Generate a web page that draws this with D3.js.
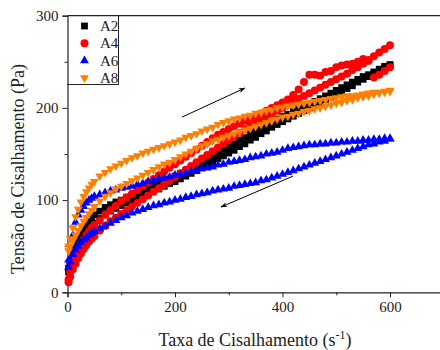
<!DOCTYPE html>
<html>
<head>
<meta charset="utf-8">
<script src="https://cdn.jsdelivr.net/npm/d3@7"></script>
<style>
  html, body { margin: 0; padding: 0; background: #fff; }
  svg { display: block; font-family: "Liberation Serif", "Times New Roman", serif; }
</style>
</head>
<body>
<svg id="chart" width="440" height="350"></svg>
<script>
// Shear rate steps (s^-1), shared by every ramp-up and ramp-down branch
const shearRate = [2, 5, 10, 15, 20, 25, 30, 35, 40, 45, 50,
  60, 70, 80, 90, 100, 110, 120, 130, 140, 150,
  160, 170, 180, 190, 200, 210, 220, 230, 240, 250,
  260, 270, 280, 290, 300, 310, 320, 330, 340, 350,
  360, 370, 380, 390, 400, 410, 420, 430, 440, 450,
  460, 470, 480, 490, 500, 510, 520, 530, 540, 550,
  560, 570, 580, 590, 600];

// Shear stress (Pa) per sample, two branches each
const a2Up = [26, 33, 43, 50, 56, 63, 69, 74, 78, 81, 84,
  88, 92, 95, 98, 100, 103, 105, 108, 110, 112,
  115, 117, 120, 123, 126, 129, 132, 135, 139, 142,
  145, 148, 152, 155, 158, 161, 165, 168, 172, 175,
  178, 182, 185, 188, 191, 193, 196, 199, 201, 204,
  207, 210, 213, 216, 219, 222, 225, 228, 231, 234,
  236, 239, 242, 245, 247];
const a2Down = [22, 28, 37, 44, 50, 56, 61, 65, 69, 72, 75,
  80, 84, 88, 91, 94, 97, 100, 102, 105, 107,
  110, 112, 115, 118, 120, 123, 126, 129, 132, 135,
  138, 141, 145, 148, 151, 154, 158, 161, 165, 168,
  172, 175, 179, 182, 185, 188, 191, 194, 197, 200,
  203, 206, 209, 212, 215, 218, 221, 224, 228, 231,
  234, 237, 240, 243, 246];

const a4Up = [14, 22, 32, 39, 46, 52, 57, 62, 66, 70, 73,
  78, 84, 89, 94, 99, 103, 107, 111, 115, 119,
  123, 127, 131, 135, 139, 143, 147, 151, 155, 159,
  163, 167, 171, 174, 177, 180, 183, 186, 189, 191,
  194, 197, 200, 203, 206, 209, 214, 220, 228, 236,
  236, 235, 239, 240, 244, 246, 247, 248, 250, 253,
  251, 233, 236, 240, 244];
const a4Down = [11, 17, 25, 31, 37, 42, 47, 51, 55, 58, 61,
  67, 72, 77, 81, 85, 89, 93, 97, 101, 105,
  109, 113, 117, 121, 125, 129, 133, 137, 141, 145,
  149, 153, 157, 161, 165, 169, 173, 177, 181, 185,
  188, 191, 194, 197, 200, 204, 207, 210, 213, 216,
  219, 222, 225, 228, 231, 234, 237, 241, 244, 248,
  252, 256, 260, 264, 268];

const a6Up = [35, 48, 62, 76, 84, 89, 93, 97, 100, 102, 104,
  106, 108, 110, 111, 113, 114, 115, 117, 118, 120,
  121, 123, 124, 125, 127, 128, 129, 131, 132, 134,
  135, 136, 138, 139, 141, 142, 143, 144, 146, 147,
  148, 150, 151, 152, 154, 156, 157, 158, 159, 160,
  160, 161, 161, 162, 162, 163, 163, 164, 164, 165,
  165, 166, 166, 167, 167];
const a6Down = [27, 33, 41, 46, 50, 54, 57, 59, 62, 64, 66,
  69, 72, 75, 78, 81, 83, 86, 88, 90, 92,
  94, 95, 97, 98, 100, 101, 103, 104, 106, 107,
  108, 110, 111, 112, 113, 115, 116, 117, 118, 119,
  121, 122, 124, 126, 128, 130, 132, 134, 136, 138,
  140, 142, 144, 146, 148, 150, 152, 154, 156, 158,
  160, 161, 163, 164, 166];

const a8Up = [50, 58, 70, 82, 90, 98, 104, 109, 113, 117, 120,
  126, 130, 134, 137, 140, 143, 146, 148, 151, 153,
  155, 157, 159, 161, 163, 165, 168, 170, 172, 175,
  177, 179, 182, 184, 186, 188, 189, 191, 192, 194,
  195, 197, 198, 200, 201, 202, 203, 204, 205, 206,
  207, 208, 209, 210, 211, 212, 213, 213, 214, 215,
  216, 217, 217, 218, 219];
const a8Down = [45, 50, 56, 62, 67, 72, 77, 81, 85, 89, 93,
  99, 104, 108, 112, 115, 118, 121, 124, 127, 130,
  133, 136, 139, 141, 144, 147, 150, 153, 156, 159,
  161, 164, 166, 168, 170, 172, 174, 176, 178, 180,
  182, 184, 186, 188, 190, 191, 193, 194, 196, 197,
  199, 200, 202, 203, 205, 206, 208, 209, 211, 212,
  213, 215, 216, 217, 218];

const seriesNames = ["A2", "A4", "A6", "A8"];
const xTicks = [0, 200, 400, 600];
const xMinorTicks = [100, 300, 500];
const yTicks = [0, 100, 200, 300];
const yMinorTicks = [50, 150, 250];

// Direction arrows: [from rate, from stress, to rate, to stress]
const arrowUp = [213, 190, 330, 221.5];
const arrowDown = [419.5, 126, 285.6, 92.5];

// ---- styling ----
const styles = [
  { color: "#000000", symbol: d3.symbolSquare, size: 46, rotate: 0 },
  { color: "#ff0000", symbol: d3.symbolCircle, size: 50, rotate: 0 },
  { color: "#0000ff", symbol: d3.symbolTriangle, size: 34, rotate: 0 },
  { color: "#ff8000", symbol: d3.symbolTriangle, size: 34, rotate: 180 }
];
const branches = [[a2Up, a2Down], [a4Up, a4Down], [a6Up, a6Down], [a8Up, a8Down]];

const svg = d3.select("#chart");
const plotLeft = 67.5, plotTop = 15.7, plotBottom = 292.3;
const x = d3.scaleLinear().domain([0, 700]).range([plotLeft, plotLeft + 700 * 0.5375]);
const y = d3.scaleLinear().domain([0, 300]).range([plotBottom, plotTop]);
const axisColor = "#222";

// frame: bottom + left axes, top border
svg.append("line").attr("x1", plotLeft).attr("x2", x(700)).attr("y1", plotTop).attr("y2", plotTop)
  .attr("stroke", axisColor).attr("stroke-width", 1.2);

const gx = svg.append("g").attr("transform", `translate(0,${plotBottom})`)
  .call(d3.axisBottom(x).tickValues(xTicks).tickSize(5).tickPadding(4).tickFormat(d3.format("d")));
const gxm = svg.append("g").attr("transform", `translate(0,${plotBottom})`)
  .call(d3.axisBottom(x).tickValues(xMinorTicks).tickSize(3).tickFormat(""));
const gy = svg.append("g").attr("transform", `translate(${plotLeft},0)`)
  .call(d3.axisLeft(y).tickValues(yTicks).tickSize(5).tickPadding(4).tickFormat(d3.format("d")));
const gym = svg.append("g").attr("transform", `translate(${plotLeft},0)`)
  .call(d3.axisLeft(y).tickValues(yMinorTicks).tickSize(3).tickFormat(""));

[gx, gxm, gy, gym].forEach(g => {
  g.select(".domain").attr("stroke", axisColor).attr("stroke-width", 1.2);
  g.selectAll(".tick line").attr("stroke", axisColor).attr("stroke-width", 1);
  g.selectAll(".tick text").attr("fill", "#222")
    .style("font-family", "'Liberation Serif', serif").style("font-size", "15px");
});
gxm.select(".domain").remove();
gym.select(".domain").remove();

// markers
const plot = svg.append("g");
branches.forEach((pair, i) => {
  const st = styles[i];
  const gen = d3.symbol().type(st.symbol).size(st.size);
  pair.forEach(vals => {
    plot.append("g").selectAll("path")
      .data(vals.map((v, k) => [shearRate[k], v]))
      .join("path")
      .attr("d", gen)
      .attr("fill", st.color)
      .attr("transform", d => `translate(${x(d[0])},${y(d[1])}) rotate(${st.rotate})`);
  });
});

// arrows
svg.append("defs").append("marker")
  .attr("id", "head").attr("viewBox", "0 0 10 10").attr("refX", 9).attr("refY", 5)
  .attr("markerWidth", 7).attr("markerHeight", 7).attr("orient", "auto")
  .append("path").attr("d", "M0,1.5 L10,5 L0,8.5 L3,5 Z").attr("fill", "#000");
[arrowUp, arrowDown].forEach(a => {
  svg.append("line")
    .attr("x1", x(a[0])).attr("y1", y(a[1]))
    .attr("x2", x(a[2])).attr("y2", y(a[3]))
    .attr("stroke", "#000").attr("stroke-width", 1)
    .attr("marker-end", "url(#head)");
});

// legend
const lg = svg.append("g");
lg.append("path")
  .attr("d", `M${plotLeft},84.5 H118.5 V${plotTop}`)
  .attr("fill", "none").attr("stroke", axisColor).attr("stroke-width", 1);
seriesNames.forEach((name, i) => {
  const st = styles[i];
  const cy = 26 + i * 17.3;
  lg.append("path")
    .attr("d", d3.symbol().type(st.symbol).size(st.size)())
    .attr("fill", st.color)
    .attr("transform", `translate(84.5,${cy}) rotate(${st.rotate})`);
  lg.append("text").attr("x", 100).attr("y", cy + 5)
    .attr("font-size", 15).attr("fill", "#222").text(name);
});

// axis titles
const xt = svg.append("text").attr("x", 255).attr("y", 346)
  .attr("text-anchor", "middle").attr("font-size", 18).attr("fill", "#222");
xt.append("tspan").text("Taxa de Cisalhamento (s");
xt.append("tspan").attr("dy", -7).attr("font-size", 12).text("-1");
xt.append("tspan").attr("dy", 7).text(")");

svg.append("text")
  .attr("transform", "translate(24,169) rotate(-90)")
  .attr("text-anchor", "middle").attr("font-size", 18).attr("fill", "#222")
  .text("Tensão de Cisalhamento (Pa)");
</script>
</body>
</html>
